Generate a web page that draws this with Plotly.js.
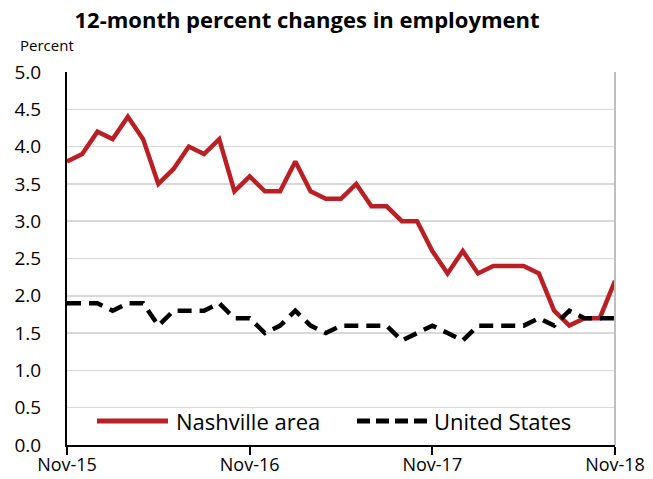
<!DOCTYPE html>
<html>
<head>
<meta charset="utf-8">
<script src="https://cdn.plot.ly/plotly-3.0.1.min.js"></script>
<style>html,body{margin:0;padding:0;background:#fff;}#chart{width:653px;height:479px;}</style>
</head>
<body>
<div id="chart"></div>
<script>
const monthIndex = [0,1,2,3,4,5,6,7,8,9,10,11,12,13,14,15,16,17,18,19,20,21,22,23,24,25,26,27,28,29,30,31,32,33,34,35,36];
const nashville = [3.8,3.9,4.2,4.1,4.4,4.1,3.5,3.7,4.0,3.9,4.1,3.4,3.6,3.4,3.4,3.8,3.4,3.3,3.3,3.5,3.2,3.2,3.0,3.0,2.6,2.3,2.6,2.3,2.4,2.4,2.4,2.3,1.8,1.6,1.7,1.7,2.2];
const unitedStates = [1.9,1.9,1.9,1.8,1.9,1.9,1.6,1.8,1.8,1.8,1.9,1.7,1.7,1.5,1.6,1.8,1.6,1.5,1.6,1.6,1.6,1.6,1.4,1.5,1.6,1.5,1.4,1.6,1.6,1.6,1.6,1.7,1.6,1.8,1.7,1.7,1.7];
const tickPositions = [0,12,24,36];
const tickLabels = ["Nov-15","Nov-16","Nov-17","Nov-18"];
const seriesNames = ["Nashville area", "United States"];

const FONT = "Open Sans, Noto Sans, sans-serif";
const RED = "#b92025";
const DASH = "14px,8px";

const traces = [
  {x: monthIndex, y: nashville, type: "scatter", mode: "lines", name: seriesNames[0],
   line: {color: RED, width: 4.5}},
  {x: monthIndex, y: unitedStates, type: "scatter", mode: "lines", name: seriesNames[1],
   line: {color: "#000000", width: 4.5, dash: DASH}}
];

// pixel helpers for the plot area (l=67, r=615, t=72, b=445)
const px = v => (v - 67) / 548;
const py = v => (445 - v) / 373;
const legY = py(421);

const layout = {
  width: 653, height: 479,
  margin: {l: 67, r: 38, t: 72, b: 34},
  paper_bgcolor: "#ffffff", plot_bgcolor: "#ffffff",
  font: {family: FONT, color: "#000000", size: 19},
  title: {text: "<b>12-month percent changes in employment</b>", font: {family: FONT, size: 22, color: "#000"},
          x: 307/653, xanchor: "center", y: 1 - 20/479, yanchor: "middle"},
  showlegend: false,
  xaxis: {range: [0, 36], tickmode: "array", tickvals: tickPositions, ticktext: tickLabels,
          showgrid: false, zeroline: false, showline: true, linecolor: "#000", linewidth: 2,
          ticks: "outside", ticklen: 8, tickwidth: 2, tickcolor: "#000", ticklabelstandoff: -6,
          tickfont: {family: FONT, size: 18, color: "#000"}, fixedrange: true},
  yaxis: {range: [0, 5], dtick: 0.5, tick0: 0, tickformat: ".1f",
          showgrid: true, gridcolor: "#d9d9d9", gridwidth: 1.5, zeroline: false,
          showline: true, linecolor: "#000", linewidth: 2, ticks: "", ticklabelstandoff: 20,
          tickfont: {family: FONT, size: 19, color: "#000"}, fixedrange: true},
  shapes: [
    {type: "line", xref: "paper", yref: "paper", x0: 1, x1: 1, y0: 0, y1: 1,
     line: {color: "#bfbfbf", width: 2}},
    {type: "line", xref: "paper", yref: "paper", x0: px(97), x1: px(168), y0: legY, y1: legY,
     line: {color: RED, width: 5}},
    {type: "line", xref: "paper", yref: "paper", x0: px(357), x1: px(427), y0: legY, y1: legY,
     line: {color: "#000", width: 5, dash: "13px,6px"}}
  ],
  annotations: [
    {text: "Percent", xref: "paper", yref: "paper", x: px(18), xanchor: "left",
     y: py(45), yanchor: "middle", showarrow: false,
     font: {family: FONT, size: 15, color: "#000"}},
    {text: seriesNames[0], xref: "paper", yref: "paper", x: px(174), xanchor: "left",
     y: legY, yanchor: "middle", showarrow: false,
     font: {family: FONT, size: 22, color: "#000"}},
    {text: seriesNames[1], xref: "paper", yref: "paper", x: px(432), xanchor: "left",
     y: legY, yanchor: "middle", showarrow: false,
     font: {family: FONT, size: 22, color: "#000"}}
  ]
};

Plotly.newPlot("chart", traces, layout, {displayModeBar: false, staticPlot: true});
</script>
</body>
</html>
